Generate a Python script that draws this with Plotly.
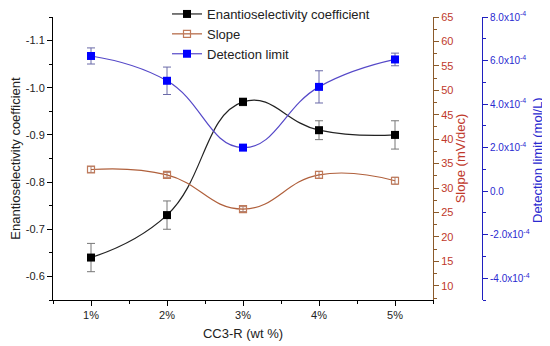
import plotly.graph_objects as go

categories = [1, 2, 3, 4, 5]
cat_labels = ["1%", "2%", "3%", "4%", "5%"]

enantio = [-0.64, -0.73, -0.97, -0.91, -0.90]
enantio_err = [0.03, 0.03, 0.008, 0.02, 0.03]

slope = [33.8, 32.7, 25.7, 32.7, 31.5]
slope_err = [0.6, 0.5, 0.5, 0.7, 0.7]

detection = [6.21e-4, 5.07e-4, 2.0e-4, 4.79e-4, 6.05e-4]
detection_err = [0.37e-4, 0.63e-4, 0.08e-4, 0.74e-4, 0.29e-4]

y1_ticks = [-1.1, -1.0, -0.9, -0.8, -0.7, -0.6]
y1_labels = ["-1.1", "-1.0", "-0.9", "-0.8", "-0.7", "-0.6"]
y2_ticks = [10, 15, 20, 25, 30, 35, 40, 45, 50, 55, 60, 65]
y3_ticks = [-4e-4, -2e-4, 0, 2e-4, 4e-4, 6e-4, 8e-4]
y3_labels = ["-4.0x10<sup>-4</sup>", "-2.0x10<sup>-4</sup>", "0.0",
             "2.0x10<sup>-4</sup>", "4.0x10<sup>-4</sup>", "6.0x10<sup>-4</sup>",
             "8.0x10<sup>-4</sup>"]

FONT = "Liberation Sans, Arial, sans-serif"
BLACK = "#000000"
BROWN_LINE = "#b0603c"
BROWN_MARK = "#c07a5a"
BROWN_AXIS = "#8b5a2b"
BROWN_TEXT = "#c0392b"
BLUE = "#0000ff"
BLUE_LINE = "#5548c8"
BLUE_AXIS = "#2020c0"
BLUE_TEXT = "#2a2ad0"

# page body has an 8px margin; figure is sized to fill the rest of the window
OFF = 8
W, H = 550 - OFF, 346 - OFF
L, T = 53 - OFF, 17 - OFF
R = W - (482 - OFF)
B = H - (300 - OFF)
PW = W - L - R
PH = H - T - B


def px_to_paper_x(px):
    return (px - OFF - L) / PW


def px_to_paper_y(py):
    return 1 - (py - OFF - T) / PH


fig = go.Figure()

fig.add_trace(go.Scatter(
    x=categories, y=enantio, name="Enantioselectivity coefficient",
    mode="lines+markers",
    line=dict(color="#222222", width=1.2, shape="spline", smoothing=1.3),
    marker=dict(symbol="square", size=8, color=BLACK),
    error_y=dict(type="data", array=enantio_err, color="#777777", thickness=1, width=4),
    yaxis="y",
))
fig.add_trace(go.Scatter(
    x=categories, y=slope, name="Slope",
    mode="lines+markers",
    line=dict(color=BROWN_LINE, width=1.2, shape="spline", smoothing=1.3),
    marker=dict(symbol="square-open", size=7, color=BROWN_MARK, line=dict(width=1.2)),
    error_y=dict(type="data", array=slope_err, color="#b08070", thickness=1, width=3),
    yaxis="y2",
))
fig.add_trace(go.Scatter(
    x=categories, y=detection, name="Detection limit",
    mode="lines+markers",
    line=dict(color=BLUE_LINE, width=1.2, shape="spline", smoothing=1.3),
    marker=dict(symbol="square", size=8, color=BLUE),
    error_y=dict(type="data", array=detection_err, color="#6a6aa8", thickness=1, width=4),
    yaxis="y3",
))

fig.update_layout(
    width=W, height=H,
    margin=dict(l=L, r=R, t=T, b=B, autoexpand=False),
    paper_bgcolor="white", plot_bgcolor="white",
    font=dict(family=FONT, size=11, color="#222222"),
    showlegend=True,
    legend=dict(x=px_to_paper_x(167), y=px_to_paper_y(-1), xanchor="left", yanchor="top",
                bgcolor="rgba(0,0,0,0)", font=dict(size=13, color="#222222"),
                tracegroupgap=0, itemwidth=30),
    xaxis=dict(
        domain=[0, px_to_paper_x(433)], range=[0.5, 5.5],
        tickvals=categories, ticktext=cat_labels,
        showline=True, linecolor=BLACK, linewidth=1,
        ticks="outside", ticklen=5, tickcolor=BLACK,
        minor=dict(ticks="outside", ticklen=3, dtick=0.5, tick0=0.5, tickcolor=BLACK),
        showgrid=False, zeroline=False,
        title=dict(text="CC3-R (wt %)", font=dict(size=13), standoff=8),
        tickfont=dict(size=11),
    ),
    yaxis=dict(
        range=[-0.55, -1.15],
        tickvals=y1_ticks, ticktext=y1_labels,
        showline=True, linecolor=BLACK, linewidth=1,
        ticks="outside", ticklen=5, tickcolor=BLACK,
        minor=dict(ticks="outside", ticklen=3, dtick=0.05, tick0=-0.55, tickcolor=BLACK),
        showgrid=False, zeroline=False,
        title=dict(text="Enantioselectivity coefficient", font=dict(size=13), standoff=6),
        tickfont=dict(size=11),
    ),
    yaxis2=dict(
        overlaying="y", side="right", anchor="x",
        range=[7.1, 65],
        tickvals=y2_ticks,
        showline=True, linecolor=BROWN_AXIS, linewidth=1,
        ticks="outside", ticklen=5, tickcolor=BROWN_AXIS,
        minor=dict(ticks="outside", ticklen=3, dtick=2.5, tick0=0, tickcolor=BROWN_AXIS),
        showgrid=False, zeroline=False,
        tickfont=dict(size=11, color=BROWN_TEXT),
        title=dict(text="Slope (mV/dec)", font=dict(size=13, color=BROWN_TEXT), standoff=2),
    ),
    yaxis3=dict(
        overlaying="y", side="right", anchor="free", position=1.0,
        range=[-5.0e-4, 8.0e-4],
        tickvals=y3_ticks, ticktext=y3_labels,
        showline=True, linecolor=BLUE_AXIS, linewidth=1,
        ticks="outside", ticklen=5, tickcolor=BLUE_AXIS,
        minor=dict(ticks="outside", ticklen=3, dtick=1e-4, tick0=0, tickcolor=BLUE_AXIS),
        showgrid=False, zeroline=False,
        tickfont=dict(size=10, color=BLUE_TEXT),
    ),
    annotations=[dict(
        text="Detection limit (mol/L)", textangle=-90,
        xref="paper", yref="paper", x=px_to_paper_x(537), y=px_to_paper_y(160),
        xanchor="center", yanchor="middle", showarrow=False,
        font=dict(size=13, color=BLUE_TEXT),
    )],
)

fig.write_html("out.html")
